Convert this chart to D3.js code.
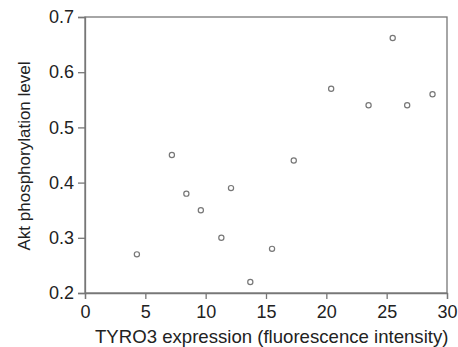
<!DOCTYPE html>
<html>
<head>
<meta charset="utf-8">
<script src="https://cdn.jsdelivr.net/npm/d3@7"></script>
<style>
  body { margin: 0; background: #fff; }
  svg text { font-family: "Liberation Sans", Arial, sans-serif; fill: #222; }
</style>
</head>
<body>
<svg id="chart" width="458" height="347"></svg>
<script>
// values
var tyro3 = [4.3, 7.2, 8.4, 9.6, 11.3, 12.1, 13.7, 15.5, 17.3, 20.4, 23.5, 25.5, 26.7, 28.8];
var aktLevel = [0.27, 0.45, 0.38, 0.35, 0.30, 0.39, 0.22, 0.28, 0.44, 0.57, 0.54, 0.662, 0.54, 0.56];
var xTicks = [0, 5, 10, 15, 20, 25, 30];
var yTicks = [0.2, 0.3, 0.4, 0.5, 0.6, 0.7];

var svg = d3.select("#chart");
var margin = {left: 85, right: 11, top: 17, bottom: 54};
var w = 458 - margin.left - margin.right,
    h = 347 - margin.top - margin.bottom;

var x = d3.scaleLinear().domain([0, 30]).range([0, w]);
var y = d3.scaleLinear().domain([0.2, 0.7]).range([h, 0]);

var g = svg.append("g").attr("transform", "translate(" + margin.left + "," + margin.top + ")");

// box around plot
g.append("rect")
    .attr("x", 0).attr("y", 0)
    .attr("width", w).attr("height", h)
    .attr("fill", "none")
    .attr("stroke", "#777")
    .attr("stroke-width", 1.3);

var xAxis = g.append("g")
    .attr("transform", "translate(0," + h + ")")
    .call(d3.axisBottom(x).tickValues(xTicks).tickSize(6).tickPadding(6).tickFormat(d3.format("d")));

var yAxis = g.append("g")
    .call(d3.axisLeft(y).tickValues(yTicks).tickSize(7).tickPadding(4).tickFormat(d3.format(".1f")));

[xAxis, yAxis].forEach(function(a) {
    a.select(".domain").attr("stroke", "#777").attr("stroke-width", 1.3);
    a.selectAll(".tick line").attr("stroke", "#777").attr("stroke-width", 1.3);
    a.selectAll(".tick text")
        .style("font-size", "18px")
        .style("font-family", "Liberation Sans, Arial, sans-serif")
        .attr("fill", "#222");
});

g.selectAll(".dot")
    .data(tyro3)
    .enter().append("circle")
    .attr("class", "dot")
    .attr("cx", function(d) { return x(d); })
    .attr("cy", function(d, i) { return y(aktLevel[i]); })
    .attr("r", 2.6)
    .attr("fill", "none")
    .attr("stroke", "#777")
    .attr("stroke-width", 1.2);

svg.append("text")
    .attr("x", 95)
    .attr("y", 343)
    .style("font-size", "18.6px")
    .text("TYRO3 expression (fluorescence intensity)");

svg.append("text")
    .attr("transform", "translate(30,156) rotate(-90)")
    .attr("text-anchor", "middle")
    .style("font-size", "17px")
    .text("Akt phosphorylation level");
</script>
</body>
</html>
